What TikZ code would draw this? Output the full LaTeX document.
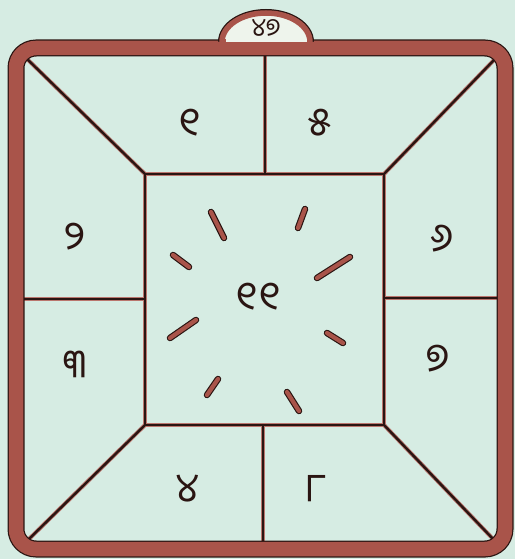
\documentclass[tikz,border=0pt]{standalone}
\usepackage{fontspec}
\newfontfamily\odia[Script=Oriya]{Noto Sans Oriya UI}
\definecolor{bgc}{HTML}{D6ECE3}
\definecolor{frm}{HTML}{A9544A}
\definecolor{ink}{HTML}{2A1512}
\definecolor{domec}{HTML}{EEF4EC}
\tikzset{
  divline/.style={line width=2.4pt, draw=ink, line cap=round},
  divglow/.style={line width=4pt, draw=frm!80, line cap=round},
  rayout/.style={line width=6.5pt, draw=ink, line cap=round},
  rayin/.style={line width=4.2pt, draw=frm, line cap=round},
  lbl/.style={font=\odia\fontsize{40}{40}\selectfont, text=ink, inner sep=0pt},
}
\begin{document}
\begin{tikzpicture}[x=1pt,y=-1pt]
\useasboundingbox (0,0) rectangle (515,559);
\fill[bgc] (0,0) rectangle (515,559);
% coordinates
\coordinate (s1) at (145,174); \coordinate (s2) at (384,174);
\coordinate (s3) at (384,425); \coordinate (s4) at (145,425);
\coordinate (c1) at (24,56);  \coordinate (c2) at (494,60);
\coordinate (c3) at (494,540); \coordinate (c4) at (28,540);
\coordinate (tv1) at (265,52); \coordinate (tv2) at (265,174);
\coordinate (bv1) at (263,425); \coordinate (bv2) at (263,546);
\coordinate (lh1) at (20,299); \coordinate (lh2) at (145,299);
\coordinate (rh1) at (384,298); \coordinate (rh2) at (500,298);
% divider lines
\foreach \st in {divglow,divline}{
  \draw[\st] (s1) -- (s2) -- (s3) -- (s4) -- cycle;
  \draw[\st] (s1) -- (c1);
  \draw[\st] (s2) -- (c2);
  \draw[\st] (s3) -- (c3);
  \draw[\st] (s4) -- (c4);
  \draw[\st] (tv1) -- (tv2);
  \draw[\st] (bv1) -- (bv2);
  \draw[\st] (lh1) -- (lh2);
  \draw[\st] (rh1) -- (rh2);
}
% frame
\draw[line width=17pt, draw=ink, rounded corners=20pt] (16,48) rectangle (505,549);
\draw[line width=14.5pt, draw=frm, rounded corners=20pt] (16,48) rectangle (505,549);
% dome
\coordinate (dc) at (266,42);
\draw[draw=ink, line width=8pt] (222,42) arc[start angle=180, end angle=360, x radius=44, y radius=29];
\filldraw[fill=domec, draw=frm, line width=5.5pt] (222,42) arc[start angle=180, end angle=360, x radius=44, y radius=29] -- cycle;
\fill[domec] (225.5,39) rectangle (306.5,42.5);
\node[lbl, font=\odia\fontsize{25}{25}\selectfont] (top) at (266,29) {୪୭};
% rays
\foreach \a/\b in {{(211,212)}/{(224,238)}, {(305,209)}/{(298,228)}, {(173,255)}/{(189,267)}, {(350,257)}/{(317,278)}, {(196,320)}/{(170,338)}, {(327,333)}/{(343,343)}, {(218,379)}/{(207,395)}, {(287,392)}/{(299,411)}}{
  \draw[rayout] \a -- \b;
  \draw[rayin] \a -- \b;
}
% labels
\node[lbl] (n11) at (258,298) {୧୧};
\node[lbl] (n1) at (190,124) {୧};
\node[lbl] (n5) at (320,124) {୫};
\node[lbl] (n2) at (75,238) {୨};
\node[lbl] (n3) at (75,366) {୩};
\node[lbl] (n6) at (442,240) {୬};
\node[lbl] (n7) at (438,360) {୭};
\node[lbl] (n4) at (188,490) {୪};
\node[lbl] (n8) at (316,490) {୮};
\end{tikzpicture}
\end{document}
